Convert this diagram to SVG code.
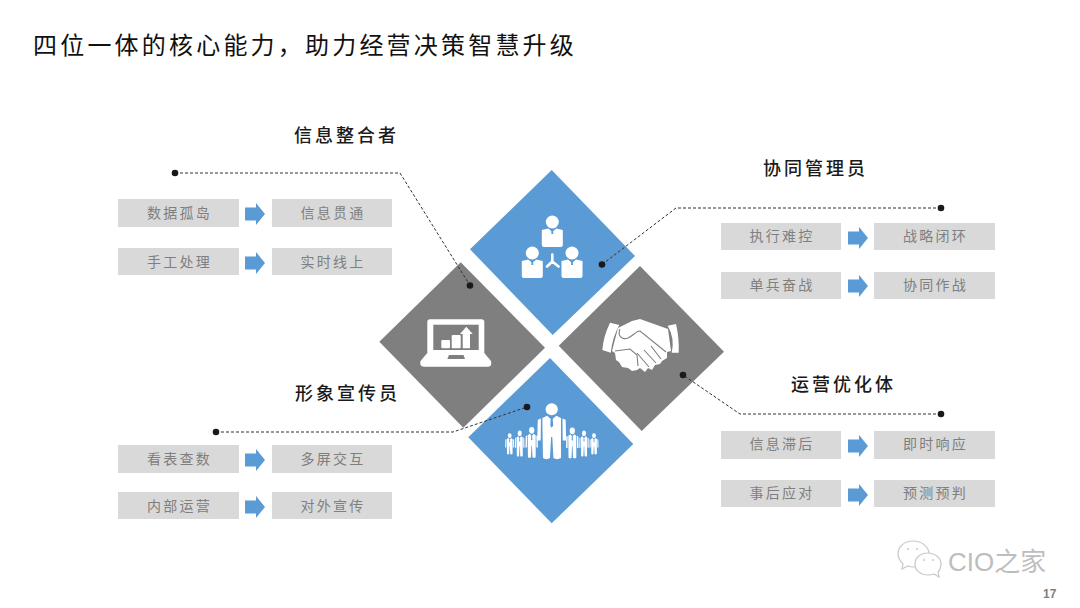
<svg xmlns="http://www.w3.org/2000/svg" width="1080" height="608" viewBox="0 0 1080 608">
<style>
text{font-family:"Noto Sans CJK SC","Liberation Sans",sans-serif}
.title{font-size:24px;letter-spacing:3.2px;fill:#111}
.head{font-size:18px;letter-spacing:3px;fill:#1a1a1a;font-weight:500}
.box{fill:#d9d9d9}
.lbl{font-size:14px;letter-spacing:2.2px;fill:#7f7f7f;text-anchor:middle}
.arr{fill:#5b9bd5}
.blue{fill:#5b9bd5}
.gray{fill:#7f7f7f}
.wire{fill:none;stroke:#333;stroke-width:1;stroke-dasharray:3 2}
.dot{fill:#1a1a1a}
.w{fill:#fff}
</style>
<defs>
<path id="ar" d="M0-6.5H11V-11L20,0L11,11V6.5H0Z"/>
<g id="man">
<circle cx="0" cy="12" r="10.5" fill="#fff"/>
<path fill="#fff" d="M-16 27L-8 23L0 30L8 23L16 27V96Q9 100 3 96L1 60L-1 60L-3 96Q-9 100-15 96L-16 40Z"/>
<path fill="#fff" d="M-18.500 28L-24 30L-25 66H-19ZM18.500 28L24 30L25 66H19Z"/>
<path fill="#5b9bd5" d="M-1.500 25H1.500L2.500 40L0 44L-2.500 40Z"/>
</g>
<g id="bust">
<circle cx="0" cy="-8" r="6.5" fill="#fff"/>
<path fill="#fff" d="M-10.500 0L-4 -1.500L0 2L4 -1.500L10.500 0V15Q10.500 17 8.500 17H-8.500Q-10.500 17-10.500 15Z"/>
<path fill="#5b9bd5" d="M-.7 0H.7L1 4H-1Z"/>
</g>
</defs>

<text class="title" x="33" y="54">四位一体的核心能力，助力经营决策智慧升级</text>

<g id="diamond-integrator">
<path class="gray" d="M460.700 262.300L545 347.700L463.300 427.700L379.300 341.700Z"/>
<path class="w" d="M430 319.300H481.500Q484.300 319.300 484.300 322V353L491 361Q492.500 366.700 488 366.700H424Q419 366.700 420.500 361L427.300 353V322Q427.300 319.300 430 319.300Z"/>
<rect class="gray" x="433.300" y="324.700" width="45.400" height="25.300"/>
<rect class="w" x="441.300" y="340" width="8.700" height="8.300" rx="1"/>
<rect class="w" x="451.700" y="335" width="9" height="13.300" rx="1"/>
<path class="w" d="M462.700 348.300V334H460L466.300 326.700L472.700 334H470V348.300Z"/>
<path class="gray" d="M449 355H463.500L465 359H447.300Z"/>
</g>

<g id="diamond-coordinator">
<path class="blue" d="M551.700 170L635 256L552.700 335L470 249.300Z"/>
<use href="#bust" x="552.300" y="230"/>
<use href="#bust" x="532.300" y="261"/>
<use href="#bust" x="572" y="261"/>
<path fill="none" stroke="#fff" stroke-width="2.600" stroke-linecap="round" d="M552.300 254.500V261.500M552.300 261.500L547 266.500M552.300 261.500L558.500 266.500"/>
</g>

<g id="diamond-optimizer">
<path class="gray" d="M640 266L724 351.700L641.700 431L558.700 345.700Z"/>
<path class="w" d="M610 322.700Q603.300 336.700 602.300 350L610.700 352.700Q612.700 336.700 619.300 325Z"/>
<path class="w" d="M667.700 325.700Q675 338 671.700 352.700L678.700 352.700Q679.300 338 676 324Z"/>
<path class="w" d="M618 328L632 321L640 319L668 329L671 351L667 352L667 358L662 361L660 364L655 365L652 370L648 368L645 372L640 368L637 370L632 371L628 368L622 367L619 362L616 360L615 353L612 351Z"/>
<path fill="none" stroke="#7f7f7f" stroke-width="1.100" d="M620 329C617 336 622 340 628 338C633 336 636 331 640 331L666 352M637 353L649 367M644 350L656 363M651 346L661 359M615 351L630 349L637 355L638 366"/>
</g>

<g id="diamond-publicist">
<path class="blue" d="M550 358L633.300 444L551.700 523.300L468.300 437.300Z"/>
<use href="#man" transform="translate(551.700 402.300) scale(.58)"/>
<use href="#man" transform="translate(509.700 433) scale(.18 .22)"/>
<use href="#man" transform="translate(519.700 430) scale(.19 .27)"/>
<use href="#man" transform="translate(531.700 426.500) scale(.25 .32)"/>
<use href="#man" transform="translate(572.300 427) scale(.25 .32)"/>
<use href="#man" transform="translate(584 430) scale(.19 .27)"/>
<use href="#man" transform="translate(594 433) scale(.18 .22)"/>
</g>

<g id="panel-integrator">
<text class="head" x="294" y="142">信息整合者</text>
<rect class="box" x="118" y="199" width="121" height="28"/><text class="lbl" x="179.500" y="218">数据孤岛</text>
<use class="arr" href="#ar" x="245" y="214"/>
<rect class="box" x="272" y="199" width="120" height="28"/><text class="lbl" x="333" y="218">信息贯通</text>
<rect class="box" x="118" y="248" width="121" height="27"/><text class="lbl" x="179.500" y="267">手工处理</text>
<use class="arr" href="#ar" x="245" y="263"/>
<rect class="box" x="272" y="248" width="120" height="27"/><text class="lbl" x="333" y="267">实时线上</text>
</g>

<g id="panel-coordinator">
<text class="head" x="763" y="175">协同管理员</text>
<rect class="box" x="721" y="223" width="120" height="27"/><text class="lbl" x="782" y="241">执行难控</text>
<use class="arr" href="#ar" x="848" y="238"/>
<rect class="box" x="874" y="223" width="121" height="27"/><text class="lbl" x="935.500" y="241">战略闭环</text>
<rect class="box" x="721" y="272" width="120" height="27"/><text class="lbl" x="782" y="290">单兵奋战</text>
<use class="arr" href="#ar" x="848" y="286"/>
<rect class="box" x="874" y="272" width="121" height="27"/><text class="lbl" x="935.500" y="290">协同作战</text>
</g>

<g id="panel-publicist">
<text class="head" x="295" y="400">形象宣传员</text>
<rect class="box" x="118" y="445" width="121" height="28"/><text class="lbl" x="179.500" y="464">看表查数</text>
<use class="arr" href="#ar" x="245" y="460"/>
<rect class="box" x="272" y="445" width="120" height="28"/><text class="lbl" x="333" y="464">多屏交互</text>
<rect class="box" x="118" y="492" width="121" height="27"/><text class="lbl" x="179.500" y="511">内部运营</text>
<use class="arr" href="#ar" x="245" y="507"/>
<rect class="box" x="272" y="492" width="120" height="27"/><text class="lbl" x="333" y="511">对外宣传</text>
</g>

<g id="panel-optimizer">
<text class="head" x="791" y="391">运营优化体</text>
<rect class="box" x="721" y="431" width="120" height="28"/><text class="lbl" x="782" y="449">信息滞后</text>
<use class="arr" href="#ar" x="848" y="446"/>
<rect class="box" x="874" y="431" width="121" height="28"/><text class="lbl" x="935.500" y="449">即时响应</text>
<rect class="box" x="721" y="480" width="120" height="27"/><text class="lbl" x="782" y="498">事后应对</text>
<use class="arr" href="#ar" x="848" y="495"/>
<rect class="box" x="874" y="480" width="121" height="27"/><text class="lbl" x="935.500" y="498">预测预判</text>
</g>

<g id="connectors">
<path class="wire" d="M175 173H400L470 285.500"/>
<path class="wire" d="M941 208H676L602 264.500"/>
<path class="wire" d="M216 432H453L527 407"/>
<path class="wire" d="M941 414H740L683 375"/>
<g class="dot">
<circle cx="175" cy="173" r="3.300"/><circle cx="470" cy="285.500" r="3.300"/>
<circle cx="941" cy="208" r="3.300"/><circle cx="602" cy="264.500" r="3.300"/>
<circle cx="216" cy="432" r="3.300"/><circle cx="527" cy="407" r="3.300"/>
<circle cx="941" cy="414" r="3.300"/><circle cx="683" cy="375" r="3.300"/>
</g>
</g>

<g id="watermark">
<path fill="#fff" stroke="#c8c8c8" stroke-width="1.200" d="M913 541C904 541 898 547 898 554C898 558 900 561 903 564L902 569L908 566C910 567 912 567 914 567C923 567 929 561 929 554C929 547 922 541 913 541Z"/>
<path fill="#fff" stroke="#c8c8c8" stroke-width="1.200" d="M928 553C920 553 915 558 915 564C915 571 921 575 928 575C930 575 932 575 934 574L939 577L938 572C940 570 941 567 941 564C941 558 935 553 928 553Z"/>
<g fill="#c8c8c8"><circle cx="908" cy="549" r="1"/><circle cx="917" cy="549" r="1"/><circle cx="924" cy="560" r="1"/><circle cx="933" cy="560" r="1"/></g>
<text x="948" y="571" font-size="26" fill="#bdbdbd" style="font-family:'Liberation Sans','Noto Sans CJK SC',sans-serif">CIO之家</text>
</g>
<text x="1043" y="598" font-size="12" font-weight="700" fill="#7f7f7f" style="font-family:'Liberation Sans',sans-serif">17</text>
</svg>
